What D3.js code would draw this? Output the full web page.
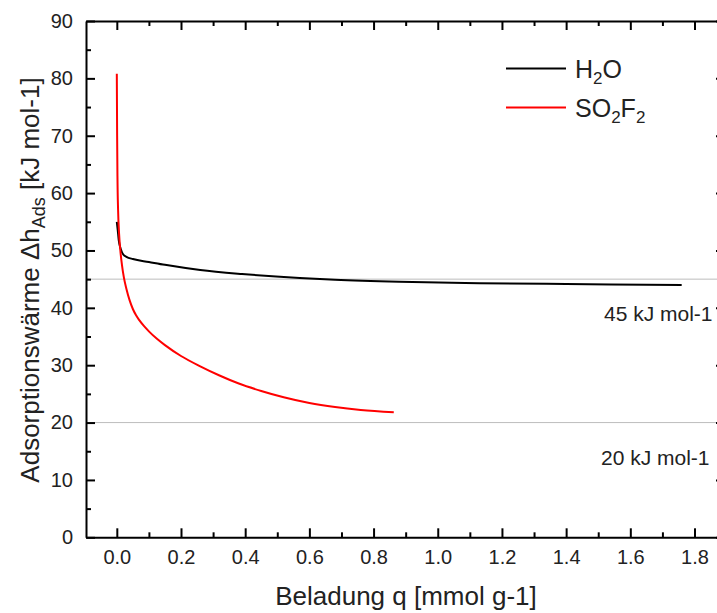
<!DOCTYPE html>
<html>
<head>
<meta charset="utf-8">
<script src="https://cdn.jsdelivr.net/npm/d3@7"></script>
<style>
body { margin: 0; background: #fff; }
svg { font-family: "Liberation Sans", Arial, sans-serif; }
.axis path, .axis line { stroke: #000; stroke-width: 2; }
.axis text { font-size: 20px; fill: #222; }
</style>
</head>
<body>
<div id="chart"></div>
<script>
// H2O curve
var h2oQ = [0, 0.003, 0.006, 0.012, 0.02, 0.03, 0.05, 0.1, 0.15, 0.26, 0.39, 0.57, 0.68, 0.88, 1.13, 1.4, 1.76]
var h2oH = [55, 53.5, 51.8, 50.3, 49.3, 48.9, 48.5, 48.0, 47.5, 46.6, 45.9, 45.2, 44.9, 44.55, 44.3, 44.15, 44.0]

// SO2F2 curve
var so2f2Q = [0, 0.001, 0.002, 0.004, 0.007, 0.011, 0.016, 0.022, 0.03, 0.04, 0.05, 0.06, 0.07, 0.085, 0.1, 0.125, 0.15, 0.2, 0.26, 0.32, 0.38, 0.45, 0.52, 0.6, 0.68, 0.76, 0.863]
var so2f2H = [80.8, 70, 63, 57, 53, 50, 47.5, 45.3, 43.3, 41.3, 39.8, 38.7, 37.85, 36.8, 35.9, 34.6, 33.5, 31.6, 29.8, 28.2, 26.8, 25.5, 24.4, 23.4, 22.7, 22.2, 21.8]

// reference lines
var refValues = [45, 20]
var refLabels = ["45 kJ mol-1", "20 kJ mol-1"]

var xTicks = [0, 0.2, 0.4, 0.6, 0.8, 1.0, 1.2, 1.4, 1.6, 1.8]
var yTicks = [0, 10, 20, 30, 40, 50, 60, 70, 80, 90]

var w = 717, h = 613

var svg = d3.select("#chart")
	.append("svg")
	.attr("width", w)
	.attr("height", h)

var x = d3.scaleLinear().domain([-0.096, 1.895]).range([86, 725])
var y = d3.scaleLinear().domain([0, 90]).range([537.3, 21])

// reference lines first (under the curves)
var refG = svg.append("g")
refG.selectAll("line")
	.data(refValues)
	.enter()
	.append("line")
	.attr("x1", x.range()[0])
	.attr("x2", w)
	.attr("y1", function(d) {return y(d)})
	.attr("y2", function(d) {return y(d)})
	.style("stroke", "#bdbdbd")
	.style("stroke-width", 1)

refG.selectAll("text")
	.data(refValues)
	.enter()
	.append("text")
	.attr("x", function(d, i) {return i == 0 ? 604 : 601})
	.attr("y", function(d) {return y(d) + 42})
	.style("font-size", "21px")
	.style("fill", "#222")
	.text(function(d, i) {return refLabels[i]})

// curves
var line = d3.line()
	.x(function(d) {return x(d[0])})
	.y(function(d) {return y(d[1])})
	.curve(d3.curveMonotoneX)

svg.append("path")
	.datum(h2oQ.map(function(q, i) {return [q, h2oH[i]]}))
	.attr("d", line)
	.style("fill", "none")
	.style("stroke", "#000")
	.style("stroke-width", 2)

svg.append("path")
	.datum(so2f2Q.map(function(q, i) {return [q, so2f2H[i]]}))
	.attr("d", line)
	.style("fill", "none")
	.style("stroke", "#ff0000")
	.style("stroke-width", 2)

// axes - inward ticks on all four sides
var x0 = x.range()[0], x1 = x.range()[1], y0 = y.range()[0], y1 = y.range()[1]
var xMinor = [0.1, 0.3, 0.5, 0.7, 0.9, 1.1, 1.3, 1.5, 1.7]
var yMinor = [5, 15, 25, 35, 45, 55, 65, 75, 85]

function addAxis(axisFn, scale, major, minor, tx, ty, fmt) {
	var g = svg.append("g").attr("class", "axis").attr("transform", "translate(" + tx + "," + ty + ")")
	g.call(axisFn(scale).tickValues(major).tickSizeInner(-9).tickSizeOuter(0).tickPadding(13)
		.tickFormat(fmt || ""))
	var gm = svg.append("g").attr("class", "axis").attr("transform", "translate(" + tx + "," + ty + ")")
	gm.call(axisFn(scale).tickValues(minor).tickSizeInner(-5).tickSizeOuter(0).tickFormat(""))
	gm.select(".domain").remove()
	return g
}

addAxis(d3.axisBottom, x, xTicks, xMinor, 0, y0, d3.format(".1f"))
addAxis(d3.axisTop, x, xTicks, xMinor, 0, y1, null)
addAxis(d3.axisLeft, y, yTicks, yMinor, x0, 0, d3.format("d"))
addAxis(d3.axisRight, y, yTicks, yMinor, x1, 0, null)

// axis titles
svg.append("text")
	.attr("x", 406)
	.attr("y", 605)
	.attr("text-anchor", "middle")
	.style("font-size", "26px")
	.style("fill", "#222")
	.text("Beladung q [mmol g-1]")

var yl = svg.append("text")
	.attr("transform", "translate(39,280) rotate(-90)")
	.attr("text-anchor", "middle")
	.style("font-size", "26px")
	.style("fill", "#222")
yl.append("tspan").text("Adsorptionswärme \u0394h")
yl.append("tspan").attr("dy", 6).style("font-size", "18px").text("Ads")
yl.append("tspan").attr("dy", -6).text(" [kJ mol-1]")

// legend
var legend = [
	{name: "H", sub: "2", rest: "O", color: "#000"},
	{name: "SO", sub: "2", rest: "F", sub2: "2", color: "#ff0000"}
]
var lg = svg.append("g")
legend.forEach(function(d, i) {
	var ly = 68.5 + i * 39
	lg.append("line")
		.attr("x1", 506).attr("x2", 566)
		.attr("y1", ly).attr("y2", ly)
		.style("stroke", d.color)
		.style("stroke-width", 2)
	var t = lg.append("text")
		.attr("x", 575)
		.attr("y", ly + 9)
		.style("font-size", "25px")
		.style("fill", "#222")
	t.append("tspan").text(d.name)
	t.append("tspan").attr("dy", 6).style("font-size", "17px").text(d.sub)
	t.append("tspan").attr("dy", -6).text(d.rest)
	if (d.sub2) t.append("tspan").attr("dy", 6).style("font-size", "17px").text(d.sub2)
})
</script>
</body>
</html>
